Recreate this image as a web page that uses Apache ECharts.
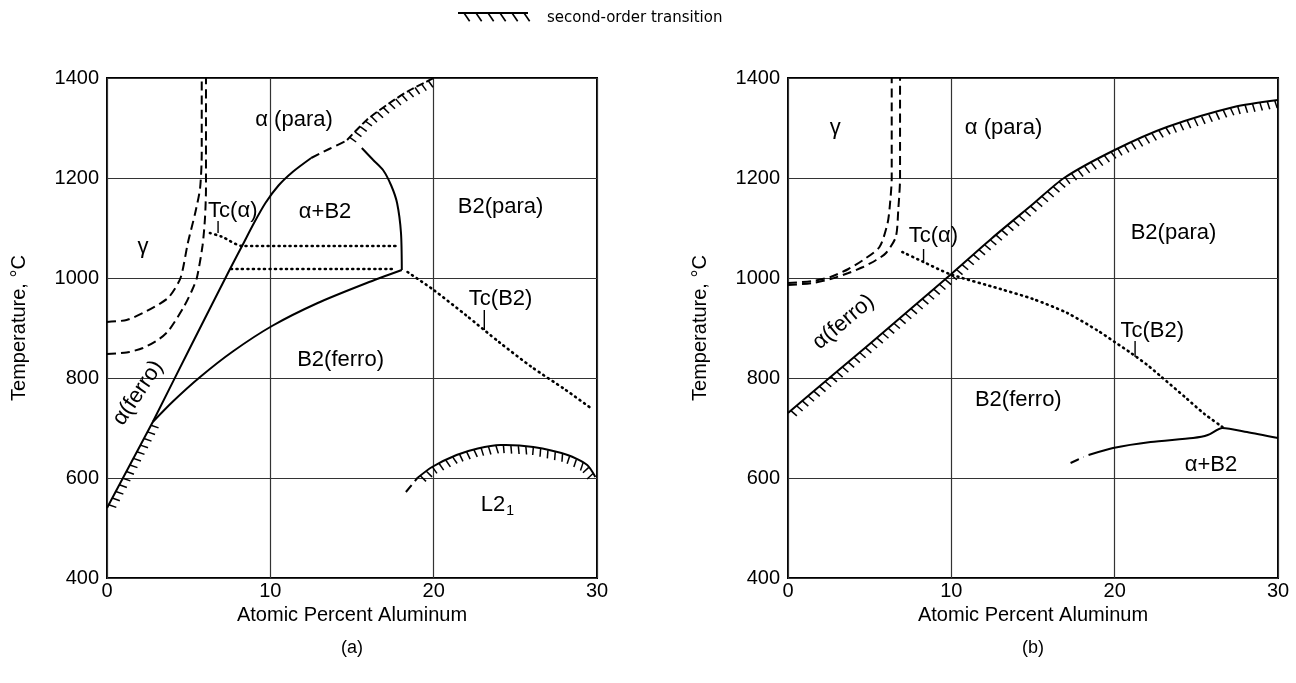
<!DOCTYPE html>
<html>
<head>
<meta charset="utf-8">
<title>Fe-Al phase diagram</title>
<script src="https://cdn.jsdelivr.net/npm/echarts@6/dist/echarts.min.js"></script>
<style>
  html, body { margin: 0; padding: 0; background: #fff; }
  #main { width: 1296px; height: 683px; }
</style>
</head>
<body>
<div id="main"></div>
<script>
"use strict";

// 坐标: [at.% Al, °C]
// ---- (a) ----
const gammaInnerA = [[0, 912], [1.2, 916], [2.2, 930], [3.2, 948], [3.8, 962], [4.5, 1000], [4.95, 1070], [5.4, 1130], [5.7, 1180], [5.8, 1250], [5.8, 1400]];
const gammaOuterA = [[0, 848], [1.2, 851], [2.2, 860], [3.2, 878], [3.8, 896], [4.7, 942], [5.2, 975], [5.5, 1000], [5.85, 1065], [6.0, 1120], [6.06, 1180], [6.06, 1400]];
const alphaFerroA = [[0, 540], [1.4, 626], [2.8, 712]];
const alphaBoundA = [[2.8, 712], [5.2, 868], [7.5, 1016], [8.3, 1066], [9.0, 1110], [9.7, 1150], [10.5, 1185], [11.4, 1213], [12.5, 1240]];
const domeTopA = [[12.5, 1240], [13.6, 1258], [14.7, 1275]];
const orderTopA = [[14.7, 1276], [15.9, 1316], [17.3, 1350], [18.5, 1375], [19.4, 1390], [20, 1400]];
const domeRightA = [[15.6, 1260], [16.3, 1236], [16.9, 1216], [17.4, 1185], [17.76, 1150], [18.0, 1090], [18.05, 1016]];
const b2FerroA = [[2.8, 712], [4, 752], [5.7, 802], [7.7, 853], [10.1, 904], [12.9, 950], [15.9, 990], [18.05, 1016]];
const tcAlphaA = [[6.3, 1090], [7.0, 1083], [8.3, 1064], [17.9, 1064]];
const tcLowA = [[7.6, 1018], [17.6, 1018]];
const tcB2A = [[18.4, 1012], [20, 976], [22, 925], [24, 872], [26, 822], [28, 778], [29.7, 738]];
const l21DashA = [[18.3, 572], [19.0, 600]];
const l21A = [[19.0, 600], [19.9, 622], [21.4, 646], [22.7, 659], [24.1, 666], [26.1, 662], [28.2, 646], [29.4, 626], [29.9, 602]];
const leadersA = [[[6.8, 1114], [6.8, 1090]], [[23.1, 936], [23.1, 896]]];
const labelsA = [
  [11.45, 1316, "α (para)"], [13.35, 1132, "α+B2"], [24.1, 1142, "B2(para)"],
  [2.2, 1062, "γ"], [14.3, 836, "B2(ferro)"], [1.9, 770, "α(ferro)", 56],
  [23.9, 546, "{m|L2}{s|1}"], [24.1, 958, "Tc(B2)"], [7.7, 1134, "Tc(α)"],
];

// ---- (b) ----
const gammaInnerB = [[0, 990], [1.5, 994], [2.6, 1002], [3.7, 1018], [4.6, 1036], [5.6, 1062], [6.1, 1110], [6.25, 1150], [6.35, 1200], [6.35, 1400]];
const gammaOuterB = [[0, 986], [1.5, 990], [2.6, 998], [3.7, 1010], [4.6, 1022], [5.4, 1036], [6.0, 1050], [6.6, 1082], [6.75, 1136], [6.86, 1200], [6.86, 1400]];
const orderB = [[0, 730], [2.6, 802], [5, 868], [7.5, 938], [10, 1008], [12.5, 1080], [15, 1148], [16.9, 1200], [20, 1256], [23.2, 1302], [27.3, 1342], [30, 1356]];
const tcB = [[7.0, 1052], [8.3, 1032], [9.9, 1008], [13, 978], [15, 958], [17.1, 930], [19, 894], [20, 872], [21, 850], [22, 826], [22.8, 804], [24.3, 762], [25.5, 728], [26.6, 702]];
const a2DashB = [[17.3, 630], [18.1, 642]];
const a2B = [[18.4, 646], [19.9, 660], [22.2, 672], [24.8, 680], [25.7, 686], [26.6, 700], [28.1, 692], [30, 680]];
const leadersB = [[[8.3, 1058], [8.3, 1034]], [[21.25, 874], [21.25, 842]]];
const labelsB = [
  [2.9, 1300, "γ"], [13.2, 1300, "α (para)"], [23.6, 1090, "B2(para)"],
  [3.4, 912, "α(ferro)", 40], [14.1, 756, "B2(ferro)"], [25.9, 626, "α+B2"],
  [22.3, 895, "Tc(B2)"], [8.9, 1085, "Tc(α)"],
];

const xTicks = [0, 30, 10];      // min, max, interval
const yTicks = [400, 1400, 200];

const FONT = "'Liberation Sans', Arial, Helvetica, sans-serif";
const INK = "#000";
const DASH = [9, 5];
const DOT = [1, 4.5];

// 二级相变线的短斜线
function hatchTicks(px, step, len, lean) {
  const out = [];
  let carry = step / 2;
  for (let i = 0; i < px.length - 1; i++) {
    const [x0, y0] = px[i];
    const [x1, y1] = px[i + 1];
    const seg = Math.hypot(x1 - x0, y1 - y0);
    if (!seg) continue;
    const ux = (x1 - x0) / seg, uy = (y1 - y0) / seg;
    const tx = -uy * Math.cos(lean) + ux * Math.sin(lean);
    const ty = ux * Math.cos(lean) + uy * Math.sin(lean);
    let d = carry;
    while (d <= seg) {
      const x = x0 + ux * d, y = y0 + uy * d;
      out.push({ x1: x, y1: y, x2: x + tx * len, y2: y + ty * len });
      d += step;
    }
    carry = d - seg;
  }
  return out;
}

const line = (g, data, type, width) => ({
  type: "line", xAxisIndex: g, yAxisIndex: g, data,
  symbol: "none", smooth: 0.25, silent: true, animation: false, z: 3,
  lineStyle: { color: INK, width: width || 2, type: type || "solid", cap: type === DOT ? "round" : "butt" },
});

const hatched = (g, data, dash) => ({
  type: "custom", xAxisIndex: g, yAxisIndex: g, data, silent: true, animation: false, z: 4,
  renderItem: (params, api) => {
    if (params.dataIndex !== 0) return null;
    const px = data.map((d) => api.coord(d));
    return {
      type: "group",
      children: [
        { type: "polyline", shape: { points: px, smooth: 0.25 }, style: { stroke: INK, lineWidth: 2, fill: null, lineDash: dash || null } },
        ...hatchTicks(px, 7.5, 8, 0.15).map((s) => ({ type: "line", shape: s, style: { stroke: INK, lineWidth: 1.5 } })),
      ],
    };
  },
});

const labelSeries = (g, items) => ({
  type: "scatter", xAxisIndex: g, yAxisIndex: g, symbolSize: 0.1, silent: true, animation: false, z: 5,
  itemStyle: { color: "#fff" },
  emphasis: { disabled: true },
  data: items.map(([x, y, text, rot]) => ({ value: [x, y], name: text, label: { rotate: rot || 0 } })),
  label: {
    show: true, position: "inside", formatter: "{b}", color: "#000", opacity: 1, textBorderWidth: 0,
    fontSize: 22, fontFamily: FONT,
    rich: {
      m: { fontSize: 22, fontFamily: FONT, color: "#000" },
      s: { fontSize: 14, fontFamily: FONT, color: "#000", padding: [12, 0, 0, 1] },
    },
  },
});

const axisText = { color: INK, fontSize: 20, fontFamily: FONT };
const xAxis = (g) => ({
  gridIndex: g, type: "value", min: xTicks[0], max: xTicks[1], interval: xTicks[2],
  axisLine: { show: false }, axisTick: { show: false },
  splitLine: { show: true, lineStyle: { color: "#333", width: 1.2 } },
  axisLabel: { ...axisText, margin: 3, formatter: (v) => String(v) },
  name: "Atomic Percent Aluminum", nameLocation: "middle", nameGap: 15, nameTextStyle: axisText,
});
const yAxis = (g) => ({
  gridIndex: g, type: "value", min: yTicks[0], max: yTicks[1], interval: yTicks[2],
  axisLine: { show: false }, axisTick: { show: false },
  splitLine: { show: true, lineStyle: { color: "#333", width: 1.2 } },
  axisLabel: { ...axisText, margin: 8, formatter: (v) => String(v) },
  name: "Temperature, °C", nameLocation: "middle", nameGap: 78, nameTextStyle: axisText,
});

// 图例
const legendPts = [[458, 13], [528, 13]];
const legendGraphic = {
  type: "group",
  children: [
    { type: "polyline", shape: { points: legendPts }, style: { stroke: INK, lineWidth: 2, fill: null } },
    ...hatchTicks(legendPts, 12, 10, 0.6).map((s) => ({ type: "line", shape: s, style: { stroke: INK, lineWidth: 1.6 } })),
  ],
};

const chart = echarts.init(document.getElementById("main"));
chart.setOption({
  backgroundColor: "#fff",
  animation: false,
  grid: [
    { left: 107, top: 78, width: 490, height: 500, show: true, borderColor: INK, borderWidth: 2 },
    { left: 788, top: 78, width: 490, height: 500, show: true, borderColor: INK, borderWidth: 2 },
  ],
  xAxis: [xAxis(0), xAxis(1)],
  yAxis: [yAxis(0), yAxis(1)],
  graphic: [
    legendGraphic,
    { type: "text", x: 547, y: 18, style: { text: "second-order transition", font: "15px 'DejaVu Sans'", fill: INK, verticalAlign: "middle" } },
    { type: "text", x: 352, y: 648, style: { text: "(a)", font: "18px " + FONT, fill: INK, align: "center", verticalAlign: "middle" } },
    { type: "text", x: 1033, y: 648, style: { text: "(b)", font: "18px " + FONT, fill: INK, align: "center", verticalAlign: "middle" } },
  ],
  series: [
    // (a)
    line(0, gammaInnerA, DASH),
    line(0, gammaOuterA, DASH),
    hatched(0, alphaFerroA),
    line(0, alphaBoundA),
    line(0, domeTopA, DASH),
    hatched(0, orderTopA, [8, 3]),
    line(0, domeRightA),
    line(0, b2FerroA),
    line(0, tcAlphaA, DOT, 2.6),
    line(0, tcLowA, DOT, 2.6),
    line(0, tcB2A, DOT, 2.6),
    line(0, l21DashA, DASH),
    hatched(0, l21A),
    ...leadersA.map((d) => line(0, d, "solid", 1.4)),
    labelSeries(0, labelsA),
    // (b)
    line(1, gammaInnerB, DASH),
    line(1, gammaOuterB, DASH),
    hatched(1, orderB),
    line(1, tcB, DOT, 2.6),
    line(1, a2DashB, DASH),
    line(1, a2B),
    ...leadersB.map((d) => line(1, d, "solid", 1.4)),
    labelSeries(1, labelsB),
  ],
});
</script>
</body>
</html>
